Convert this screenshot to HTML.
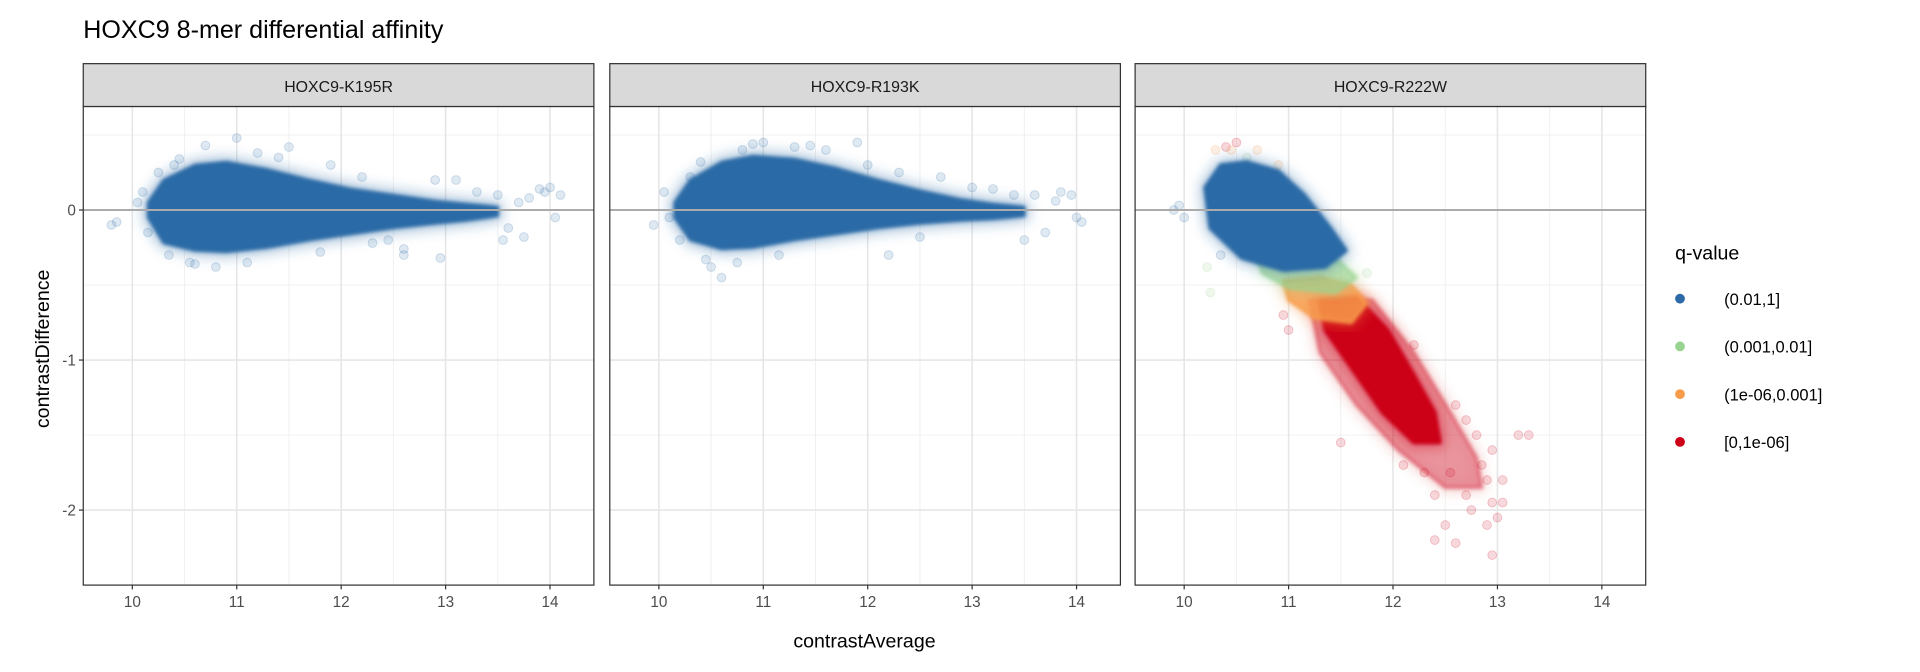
<!DOCTYPE html>
<html><head><meta charset="utf-8"><style>
html,body{margin:0;padding:0;background:#fff}
svg{display:block;font-family:"Liberation Sans",Arial,sans-serif}
</style></head><body>
<svg id="chart" width="1920" height="672" viewBox="0 0 1568 549" preserveAspectRatio="none" xmlns="http://www.w3.org/2000/svg">
<defs>
<filter id="blurS" x="-20%" y="-20%" width="140%" height="140%"><feGaussianBlur stdDeviation="1.6"/></filter>
<filter id="blurL" x="-20%" y="-20%" width="140%" height="140%"><feGaussianBlur stdDeviation="5"/></filter>
</defs>
<text x="68" y="31" font-size="20.5" fill="#000">HOXC9 8-mer differential affinity</text>
<text transform="translate(40,285) rotate(-90)" text-anchor="middle" font-size="16" fill="#000">contrastDifference</text>
<text x="706" y="529" text-anchor="middle" font-size="16" fill="#000">contrastAverage</text>
<g id="panels"></g>
<g>
<text x="1368" y="212" font-size="16" fill="#000">q-value</text>
<g id="legend-items"></g>
</g>
</svg>
<script>
// ---- data ----
const panelNames = ["HOXC9-K195R","HOXC9-R193K","HOXC9-R222W"];
const xTicks = [10,11,12,13,14];
const yTicks = [0,-1,-2];
const qLabels = ["(0.01,1]","(0.001,0.01]","(1e-06,0.001]","[0,1e-06]"];
const qColors = ["#2b6aa6","#98d38f","#f89c4a","#cc0018"];
// panel 1 density band
const p1X   = [10.15,10.3,10.6,10.9,11.3,11.7,12.1,12.5,12.9,13.2,13.5];
const p1Top = [0.05,0.2,0.3,0.32,0.27,0.2,0.14,0.1,0.06,0.04,0.02];
const p1Bot = [-0.05,-0.22,-0.27,-0.28,-0.25,-0.2,-0.16,-0.12,-0.09,-0.07,-0.04];
// panel 2 density band
const p2X   = [10.15,10.3,10.6,10.9,11.3,11.7,12.1,12.5,12.9,13.2,13.5];
const p2Top = [0.05,0.2,0.32,0.36,0.34,0.28,0.2,0.13,0.07,0.04,0.02];
const p2Bot = [-0.05,-0.2,-0.26,-0.25,-0.2,-0.16,-0.12,-0.09,-0.07,-0.06,-0.04];
// panel 1 sparse points
const p1PtsX = [9.8,9.85,10.05,10.1,10.15,10.4,10.55,10.7,11.0,11.2,11.5,11.9,12.3,12.6,12.9,13.1,13.3,13.5,13.6,13.7,13.8,13.9,14.0,14.05,14.1,13.55,13.75,13.95,12.6,12.95,10.35,10.45,10.8,11.1,11.4,11.8,12.2,12.45,10.25,10.6];
const p1PtsY = [-0.1,-0.08,0.05,0.12,-0.15,0.3,-0.35,0.43,0.48,0.38,0.42,0.3,-0.22,-0.26,0.2,0.2,0.12,0.1,-0.12,0.05,0.08,0.14,0.15,-0.05,0.1,-0.2,-0.18,0.12,-0.3,-0.32,-0.3,0.34,-0.38,-0.35,0.35,-0.28,0.22,-0.2,0.25,-0.36];
// panel 2 sparse points
const p2PtsX = [9.95,10.05,10.1,10.2,10.4,10.5,10.6,10.8,11.0,11.3,11.6,11.9,12.3,12.7,13.0,13.2,13.4,13.6,13.7,13.85,13.95,14.0,14.05,13.5,13.8,12.2,10.3,10.45,10.75,11.15,11.45,12.0,12.5,10.9];
const p2PtsY = [-0.1,0.12,-0.05,-0.2,0.32,-0.38,-0.45,0.4,0.45,0.42,0.4,0.45,0.25,0.22,0.15,0.14,0.1,0.1,-0.15,0.12,0.1,-0.05,-0.08,-0.2,0.06,-0.3,0.22,-0.33,-0.35,-0.3,0.43,0.3,-0.18,0.44];
// panel 3 region outlines (per q-value class)
const p3BlueX = [10.2,10.35,10.6,10.9,11.15,11.4,11.55,11.35,10.95,10.55,10.25];
const p3BlueY = [0.15,0.3,0.32,0.26,0.1,-0.12,-0.27,-0.38,-0.4,-0.32,-0.12];
const p3GreenX = [10.7,11.0,11.45,11.65,11.45,11.0,10.75];
const p3GreenY = [-0.32,-0.3,-0.32,-0.45,-0.55,-0.52,-0.42];
const p3OrangeX = [10.95,11.3,11.6,11.75,11.6,11.25,11.0];
const p3OrangeY = [-0.47,-0.45,-0.5,-0.62,-0.75,-0.72,-0.6];
const p3RedX = [11.3,11.65,11.95,12.2,12.4,12.45,12.2,11.9,11.6,11.35];
const p3RedY = [-0.6,-0.58,-0.8,-1.1,-1.35,-1.55,-1.55,-1.35,-1.05,-0.8];
const p3RedHaloX = [11.2,11.8,12.2,12.55,12.8,12.85,12.5,12.05,11.65,11.3];
const p3RedHaloY = [-0.6,-0.6,-0.95,-1.35,-1.65,-1.85,-1.85,-1.6,-1.3,-0.95];
// panel 3 sparse points
const p3PtsX = [9.95,9.9,10.0,10.25,10.3,10.4,10.5,10.45,10.6,10.7,10.9,11.0,10.95,11.5,12.6,12.7,12.8,12.95,13.2,13.3,12.9,12.4,12.5,12.95,12.75,12.9,12.4,12.95,13.0,12.6,12.2,13.05,10.22,10.35,11.3,11.75,12.1,12.55,12.85,12.3,12.7,13.05];
const p3PtsY = [0.03,0.0,-0.05,-0.55,0.4,0.42,0.45,0.4,0.35,0.4,0.3,-0.8,-0.7,-1.55,-1.3,-1.4,-1.5,-1.6,-1.5,-1.5,-1.8,-1.9,-2.1,-1.95,-2.0,-2.1,-2.2,-2.3,-2.05,-2.22,-0.9,-1.95,-0.38,-0.3,-0.45,-0.42,-1.7,-1.75,-1.7,-1.75,-1.9,-1.8];
const p3PtsC = [0,0,0,1,2,3,3,2,1,2,2,3,3,3,3,3,3,3,3,3,3,3,3,3,3,3,3,3,3,3,3,3,1,0,1,1,3,3,3,3,3,3];

// ---- layout ----
const panelL = [68,498,927], panelW = 417;
const stripTop = 52, stripBot = 87, plotBot = 478;
const xMin = 9.53, xMax = 14.42, yMax = 0.69, yMin = -2.5;
function xs(p,v){return panelL[p] + (v - xMin)/(xMax - xMin)*panelW;}
function ys(v){return stripBot + (yMax - v)/(yMax - yMin)*(plotBot - stripBot);}
const NS = "http://www.w3.org/2000/svg";
function mk(tag, attrs, parent){const e=document.createElementNS(NS,tag);for(const k in attrs)e.setAttribute(k,attrs[k]);parent.appendChild(e);return e;}
const root = document.getElementById('panels');

function band(p, X, T, B, color, g){
  let pts = X.map((x,i)=>xs(p,x)+','+ys(T[i]));
  for(let i=X.length-1;i>=0;i--) pts.push(xs(p,X[i])+','+ys(B[i]));
  const halo = mk('polygon',{points:pts.join(' '),fill:color,'fill-opacity':0.3,stroke:color,'stroke-opacity':0.3,'stroke-width':10,'stroke-linejoin':'round',filter:'url(#blurL)'},g);
  
  
  const core = mk('polygon',{points:pts.join(' '),fill:color,stroke:color,'stroke-width':2,'stroke-linejoin':'round',filter:'url(#blurS)'},g);
  
  
}
function region(p, X, Y, color, op, g, name){
  const pts = X.map((x,i)=>xs(p,x)+','+ys(Y[i])).join(' ');
  const h = mk('polygon',{points:pts,fill:color,'fill-opacity':op*0.3,stroke:color,'stroke-opacity':op*0.3,'stroke-width':10,'stroke-linejoin':'round',filter:'url(#blurL)'},g);
  
  
  const c = mk('polygon',{points:pts,fill:color,'fill-opacity':op,stroke:color,'stroke-opacity':op,'stroke-width':3,'stroke-linejoin':'round',filter:'url(#blurS)'},g);
  
  
}
function points(p, X, Y, C, g){
  X.forEach((x,i)=>{
    const col = qColors[C ? C[i] : 0];
    const c = mk('circle',{cx:xs(p,x),cy:ys(Y[i]),r:3.6,fill:col,'fill-opacity':0.15,stroke:col,'stroke-opacity':0.2,'stroke-width':0.8},g);
    
    
  });
}

for(let p=0;p<3;p++){
  const g = mk('g',{},root);
  
  
  const L = panelL[p];
  for(let v=9.5; v<=14.5; v+=1){ if(v<xMin||v>xMax) continue;
    const l = mk('line',{x1:xs(p,v),x2:xs(p,v),y1:stripBot,y2:plotBot,stroke:'#f0f0f0','stroke-width':0.8},g);
      }
  for(let v=0.5; v>=-2.5; v-=1){ if(v>yMax||v<yMin) continue;
    const l = mk('line',{x1:L,x2:L+panelW,y1:ys(v),y2:ys(v),stroke:'#f0f0f0','stroke-width':0.8},g);
      }
  xTicks.forEach(v=>{
    const l = mk('line',{x1:xs(p,v),x2:xs(p,v),y1:stripBot,y2:plotBot,stroke:'#e6e6e6','stroke-width':1.3},g);
     
    const t = mk('line',{x1:xs(p,v),x2:xs(p,v),y1:plotBot,y2:plotBot+3.5,stroke:'#333','stroke-width':1},g);
     
    const lb = mk('text',{x:xs(p,v),y:plotBot+18,'text-anchor':'middle','font-size':12.5,fill:'#4d4d4d'},g);
    lb.textContent = v;
     
  });
  yTicks.forEach(v=>{
    const l = mk('line',{x1:L,x2:L+panelW,y1:ys(v),y2:ys(v),stroke:'#e6e6e6','stroke-width':1.3},g);
     
    if(p===0){
      const t = mk('line',{x1:L-3.5,x2:L,y1:ys(v),y2:ys(v),stroke:'#333','stroke-width':1},g);
       
      const lb = mk('text',{x:L-6,y:ys(v)+4.5,'text-anchor':'end','font-size':12.5,fill:'#4d4d4d'},g);
      lb.textContent = v;
       
    }
  });
  if(p===0){ points(0,p1PtsX,p1PtsY,null,g); band(0,p1X,p1Top,p1Bot,qColors[0],g); }
  if(p===1){ points(1,p2PtsX,p2PtsY,null,g); band(1,p2X,p2Top,p2Bot,qColors[0],g); }
  if(p===2){
    points(2,p3PtsX,p3PtsY,p3PtsC,g);
    region(2,p3RedHaloX,p3RedHaloY,qColors[3],0.35,g,'red-sparse-region');
    region(2,p3RedX,p3RedY,qColors[3],1,g,'red-dense-region');
    region(2,p3OrangeX,p3OrangeY,qColors[2],0.8,g,'orange-region');
    region(2,p3GreenX,p3GreenY,qColors[1],0.6,g,'green-region');
    region(2,p3BlueX,p3BlueY,qColors[0],1,g,'blue-region');
  }
  const z = mk('line',{x1:L,x2:L+panelW,y1:ys(0),y2:ys(0),stroke:'#ababab','stroke-width':1.6},g);
   
  const b = mk('rect',{x:L,y:stripBot,width:panelW,height:plotBot-stripBot,fill:'none',stroke:'#333','stroke-width':1},g);
   
  const s = mk('rect',{x:L,y:stripTop,width:panelW,height:stripBot-stripTop,fill:'#d9d9d9',stroke:'#333','stroke-width':1},g);
   
  const st = mk('text',{x:L+panelW/2,y:stripTop+23,'text-anchor':'middle','font-size':13,fill:'#1a1a1a'},g);
  st.textContent = panelNames[p];
   
}
const lg = document.getElementById('legend-items');
qLabels.forEach((lab,i)=>{
  const y = 244 + i*39;
  const c = mk('circle',{cx:1372,cy:y,r:4,fill:qColors[i]},lg);
   
  const t = mk('text',{x:1408,y:y+5,'font-size':13.5,fill:'#000'},lg);
  t.textContent = lab;
   
});
</script>
</body></html>
